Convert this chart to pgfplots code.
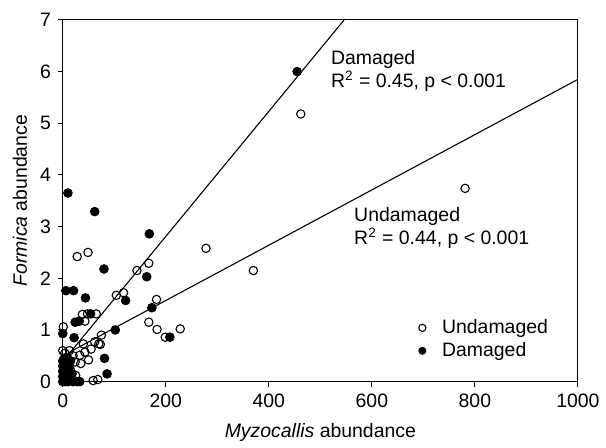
\documentclass[border=0pt]{standalone}
\usepackage{fontspec}
\setmainfont{Liberation Sans}
\usepackage{pgfplots}
\pgfplotsset{compat=1.18}
\begin{document}
\fontsize{9.75}{11.5}\selectfont
\begin{tikzpicture}
\begin{axis}[
  scale only axis, width=258.5pt, height=181.5pt,
  xmin=0, xmax=1000, ymin=0, ymax=7,
  xtick={0,200,400,600,800,1000}, ytick={0,1,2,3,4,5,6,7},
  tick align=outside, xtick pos=bottom, ytick pos=left,
  major tick length=2.5pt,
  axis line style={line width=0.5pt},
  every tick/.style={line width=0.5pt, black},
  /pgf/number format/assume math mode=true,
  /pgf/number format/1000 sep={},
  clip=false,
  xlabel={\textit{Myzocallis} abundance},
  ylabel={\textit{Formica} abundance},
  every axis x label/.style={at={(axis description cs:0.5,-0.14)},anchor=center},
  every axis y label/.style={at={(axis description cs:-0.0832,0.5)},anchor=center,rotate=90},
  legend style={draw=none, fill=none, at={(axis cs:688,1.29)}, anchor=north west, inner sep=0pt, row sep=-1pt},
  legend cell align=left,
  legend image code/.code={\draw[#1, mark size=1.8pt] plot coordinates {(0cm,0cm)}; \path (-2.2pt,0pt) (7.7pt,0pt);},
]
\addplot[only marks, mark=o, mark size=2.1pt, mark options={line width=0.55pt, fill=white, draw=black}] coordinates {
(462,5.18) (781,3.74) (278,2.58) (370,2.15) (167,2.29) (144,2.15)
(28,2.42) (49,2.50) (118,1.72) (104,1.67) (182,1.59) (167,1.15)
(183,1.01) (199,0.86) (228,1.02) (75,0.90) (73,0.72) (38,1.30)
(48,1.31) (65,1.31) (43,1.17) (1,1.06) (62,0.77) (70,0.73)
(55,0.63) (40,0.73) (43,0.57) (33,0.51) (4,0.55) (13,0.60)
(0,0.60) (50,0.42) (35,0.35) (24,0.38) (59,0.02) (68,0.04)
(10,0.45) (20,0.50) (15,0.22) (25,0.12)
};
\addlegendentry{Undamaged}
\addplot[only marks, mark=*, mark size=2.2pt, mark options={line width=0.4pt, fill=black, draw=black}] coordinates {
(455,6.00) (168,2.86) (10,3.65) (62,3.29) (80,2.18) (163,2.03)
(122,1.57) (173,1.43) (102,1.00) (208,0.86) (81,0.45) (86,0.15)
(6,1.76) (21,1.76) (44,1.62) (54,1.31) (24,1.15) (32,1.17)
(0,0.93) (22,0.85) (33,0.00) (28,0.00)
(0,0.00) (0,0.10) (0,0.20) (0,0.30) (0,0.40) (5,0.00) (5,0.15)
(5,0.30) (10,0.00) (10,0.10) (10,0.25) (15,0.05) (15,0.40)
(20,0.00) (3,0.45) (8,0.35) (18,0.15) (13,0.30)
};
\addlegendentry{Damaged}
\addplot[black, line width=0.55pt, forget plot] coordinates {(10,0.511) (546,6.997)};
\addplot[black, line width=0.55pt, forget plot] coordinates {(10,0.5535) (1000,5.85)};
\node[anchor=north west, align=left, inner sep=0pt] at (axis cs:520,6.42) {Damaged\\R\textsuperscript{2} = 0.45, p < 0.001};
\node[anchor=north west, align=left, inner sep=0pt] at (axis cs:565,3.37) {Undamaged\\R\textsuperscript{2} = 0.44, p < 0.001};
\end{axis}
\path (current axis.south west) ++(-31.5pt,-33pt) coordinate (bl);
\path (current axis.north east) ++(13pt,10pt) coordinate (tr);
\path (bl) rectangle (tr);
\end{tikzpicture}
\end{document}
